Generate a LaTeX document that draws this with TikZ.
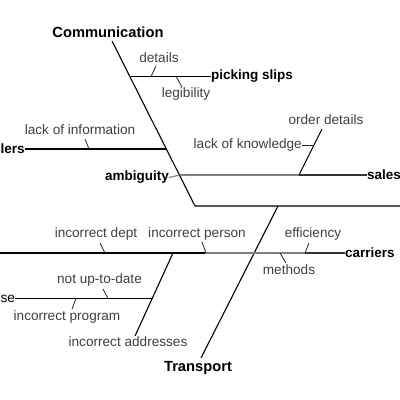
\documentclass[tikz,border=0pt]{standalone}
\usepackage{fontspec}
\setmainfont{Liberation Sans}
\begin{document}
\begin{tikzpicture}[x=1pt,y=-1pt,
  lbl/.style={font=\fontsize{13.6}{15}\selectfont, text=black!75, inner sep=0pt},
  bl/.style={font=\fontsize{13.5}{15}\selectfont\bfseries, text=black, inner sep=0pt},
  hd/.style={font=\fontsize{14.7}{16}\selectfont\bfseries, text=black, inner sep=0pt},
  ln/.style={line width=1.1pt, black},
  gl/.style={line width=1.1pt, black!50},
  dl/.style={line width=1.1pt, black!80},
  tk/.style={line width=0.8pt, black!85}]
\fill[white] (0,0) rectangle (400,400);
\useasboundingbox (0,0) rectangle (400,400);

% Communication bone and spine
\coordinate (cTop) at (112,41);
\coordinate (cBot) at (195,206);
\coordinate (spineEnd) at (400,206);
\node[hd] (comm) at (108,32) {Communication};
\draw[ln] (cTop) -- (cBot) -- (spineEnd);

% picking slips
\coordinate (psA) at (130.5,76.5);
\node[bl, anchor=west] (ps) at (211,76.5) {picking slips};
\draw[ln] (psA) -- (ps.west);
\coordinate (dA) at (151,76.5); \coordinate (dB) at (156,66);
\node[lbl] (det) at (159,58) {details};
\draw[tk] (dA) -- (dB);
\coordinate (lgA) at (176,76.5); \coordinate (lgB) at (182,87);
\node[lbl] (leg) at (186,94) {legibility};
\draw[tk] (lgA) -- (lgB);

% lers
\node[bl, anchor=west] (lers) at (0.5,149) {lers};
\coordinate (liA) at (166.5,149);
\draw[ln] (lers.east) -- (liA);
\coordinate (lfA) at (85,139); \coordinate (lfB) at (89,149);
\node[lbl] (lfi) at (80,130) {lack of information};
\draw[tk] (lfA) -- (lfB);

% sales
\coordinate (sA) at (179.5,175);
\coordinate (sM) at (299,175);
\node[bl, anchor=west] (sales) at (367,175) {sales};
\draw[gl] (sA) -- (sM);
\draw[dl] (sM) -- (sales.west);
\node[bl, anchor=east] (amb) at (169,177.5) {ambiguity};
\draw[gl] (amb.east) -- (sA);
\coordinate (odB) at (322,129);
\draw[ln] (sM) -- (odB);
\node[lbl] (od) at (326,120) {order details};
\node[lbl, anchor=east] (lok) at (302,145) {lack of knowledge};
\coordinate (lokB) at (313.5,145);
\draw[tk] (lok.east) -- (lokB);

% Transport bone
\coordinate (tTop) at (278,206);
\coordinate (tBot) at (201,358);
\node[hd] (tr) at (198,368) {Transport};
\draw[ln] (tTop) -- (tBot);

% carriers line
\coordinate (cl0) at (0,253);
\coordinate (cl1) at (205,253);
\coordinate (cl2) at (305,253);
\node[bl, anchor=west] (car) at (345,253) {carriers};
\draw[ln] (cl0) -- (cl1);
\draw[gl] (cl1) -- (cl2);
\draw[dl] (cl2) -- (car.west);
\coordinate (idA) at (100,243); \coordinate (idB) at (105,253);
\node[lbl] (idept) at (96,234) {incorrect dept};
\draw[tk] (idA) -- (idB);
\coordinate (ipA) at (202,242); \coordinate (ipB) at (206,253);
\node[lbl] (iper) at (197,234) {incorrect person};
\draw[tk] (ipA) -- (ipB);
\coordinate (efA) at (305,253); \coordinate (efB) at (309,243);
\node[lbl] (eff) at (313,234) {efficiency};
\draw[tk] (efA) -- (efB);
\coordinate (meA) at (280,253); \coordinate (meB) at (286,263);
\node[lbl] (meth) at (289,270) {methods};
\draw[tk] (meA) -- (meB);

% incorrect addresses diagonal
\coordinate (iaA) at (173,253);
\coordinate (iaB) at (135,336);
\draw[ln] (iaA) -- (iaB);
\node[lbl] (iadr) at (128,342) {incorrect addresses};

% se branch
\node[lbl, text=black, anchor=west] (se) at (0.5,298.5) {se};
\coordinate (seB) at (151.5,298.5);
\draw[ln] (se.east) -- (seB);
\coordinate (nuA) at (103,289); \coordinate (nuB) at (108,298.5);
\node[lbl] (nut) at (99.5,280) {not up-to-date};
\draw[tk] (nuA) -- (nuB);
\coordinate (ipgA) at (72,309); \coordinate (ipgB) at (76,298.5);
\node[lbl] (iprog) at (67,316.5) {incorrect program};
\draw[tk] (ipgA) -- (ipgB);
\end{tikzpicture}
\end{document}
